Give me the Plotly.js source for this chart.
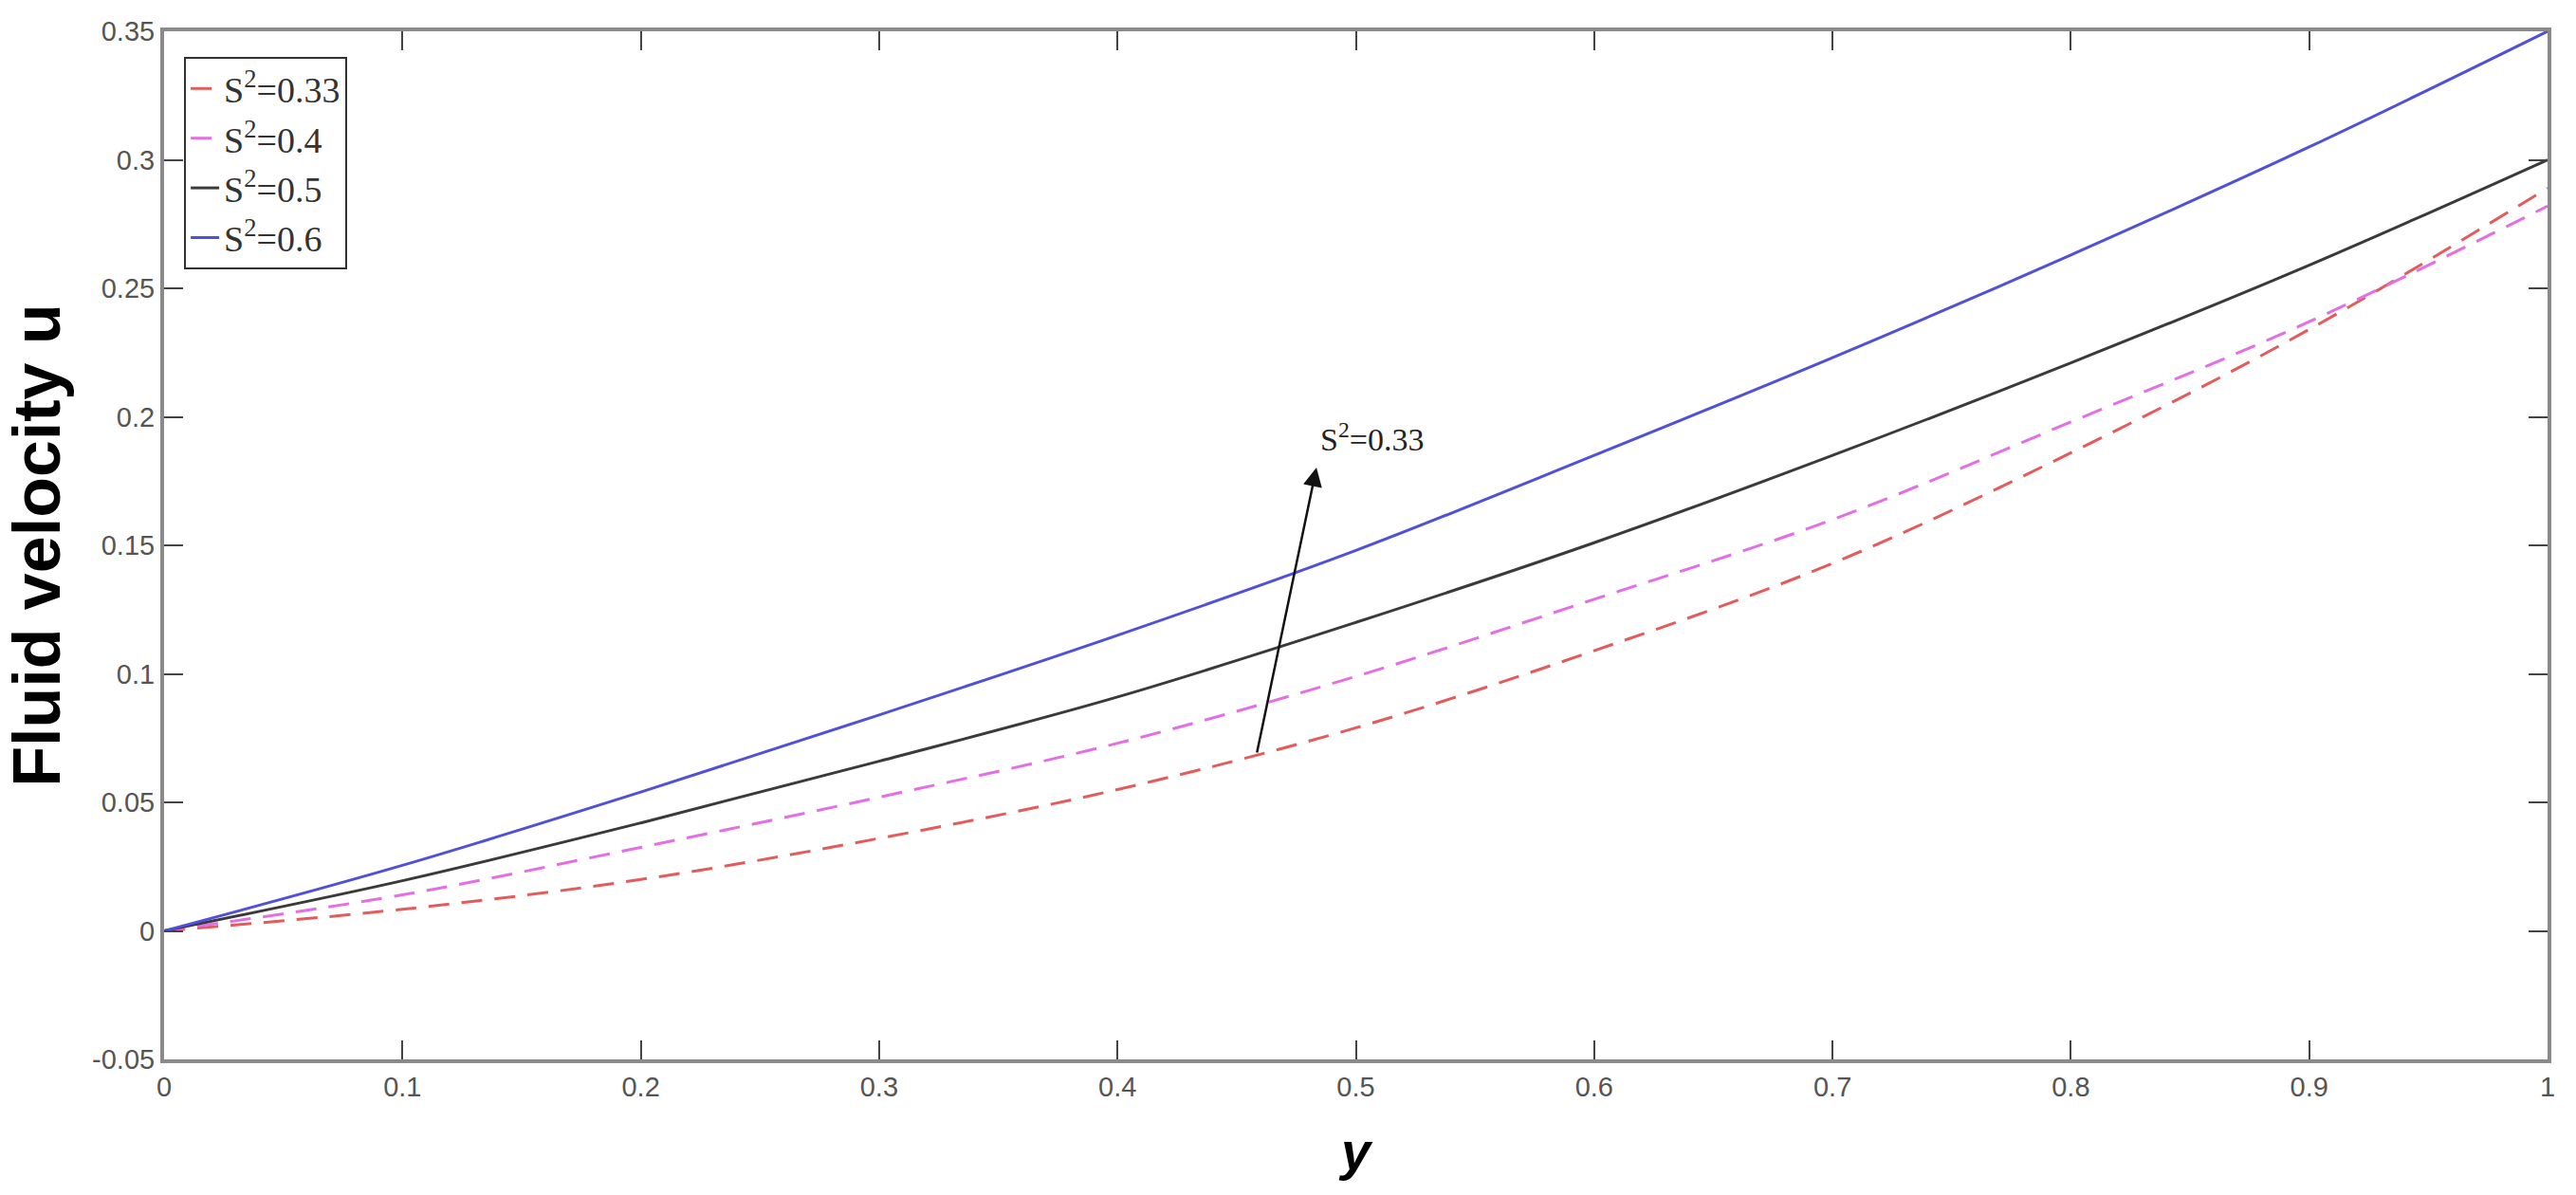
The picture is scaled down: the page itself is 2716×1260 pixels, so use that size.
<!DOCTYPE html>
<html>
<head>
<meta charset="utf-8">
<script src="https://cdn.plot.ly/plotly-3.0.1.min.js"></script>
<style>
  html, body { margin: 0; padding: 0; background: #ffffff; }
  #chart { width: 2716px; height: 1260px; }
</style>
</head>
<body>
<div id="chart"></div>
<script>
// values
var yPos = [0, 0.1, 0.2, 0.3, 0.4, 0.5, 0.6, 0.7, 0.8, 0.9, 1.0];
var uS033 = [0, 0.0084, 0.020, 0.036, 0.055, 0.079, 0.109, 0.143, 0.186, 0.234, 0.289];
var uS04 = [0, 0.014, 0.0325, 0.052, 0.073, 0.099, 0.129, 0.160, 0.198, 0.237, 0.282];
var uS05 = [0, 0.0195, 0.042, 0.066, 0.091, 0.120, 0.151, 0.185, 0.221, 0.259, 0.300];
var uS06 = [0, 0.0255, 0.054, 0.084, 0.115, 0.148, 0.185, 0.223, 0.263, 0.305, 0.350];

var seriesNames = ['S<sup>2</sup>=0.33', 'S<sup>2</sup>=0.4', 'S<sup>2</sup>=0.5', 'S<sup>2</sup>=0.6'];

var yTickVals = [-0.05, 0, 0.05, 0.1, 0.15, 0.2, 0.25, 0.3, 0.35];
var yTickText = ['-0.05', '0', '0.05', '0.1', '0.15', '0.2', '0.25', '0.3', '0.35'];

// arrow from the S^2=0.33 curve up to the label
var arrowTail = {x: 0.4584, y: 0.0688};
var arrowHead = {x: 0.4835, y: 0.1803};
var arrowLabel = {x: 0.507, y: 0.192, text: 'S<sup>2</sup>=0.33'};

var dashStyle = '22px,13px';

var trace1 = {
    x: yPos,
    y: uS033,
    mode: 'lines',
    name: seriesNames[0],
    line: {color: '#e35b5b', width: 3, dash: dashStyle, shape: 'spline'}
};

var trace2 = {
    x: yPos,
    y: uS04,
    mode: 'lines',
    name: seriesNames[1],
    line: {color: '#e46ee4', width: 3, dash: dashStyle, shape: 'spline'}
};

var trace3 = {
    x: yPos,
    y: uS05,
    mode: 'lines',
    name: seriesNames[2],
    line: {color: '#3a3a3a', width: 3, shape: 'spline'}
};

var trace4 = {
    x: yPos,
    y: uS06,
    mode: 'lines',
    name: seriesNames[3],
    line: {color: '#5050d8', width: 3, shape: 'spline'}
};

var data = [trace1, trace2, trace3, trace4];

var tickFont = {family: 'Liberation Sans, Arial, sans-serif', size: 29, color: '#555555'};

var layout = {
    width: 2716,
    height: 1260,
    paper_bgcolor: '#ffffff',
    plot_bgcolor: '#ffffff',
    margin: {l: 173, r: 30, t: 33, b: 143, pad: 0},
    showlegend: true,
    legend: {
        x: 0.0084,
        y: 0.975,
        xanchor: 'left',
        yanchor: 'top',
        bgcolor: '#ffffff',
        bordercolor: '#333333',
        borderwidth: 2,
        tracegroupgap: 0,
        font: {family: 'Liberation Serif, Times New Roman, serif', size: 38, color: '#333333'}
    },
    xaxis: {
        range: [0, 1],
        dtick: 0.1,
        tick0: 0,
        showgrid: false,
        zeroline: false,
        showline: true,
        linecolor: '#8a8a8a',
        linewidth: 4,
        mirror: 'ticks',
        ticks: 'inside',
        ticklen: 20,
        tickwidth: 2,
        tickcolor: '#444444',
        tickfont: tickFont,
        title: {
            text: '<b><i>y</i></b>',
            standoff: 34,
            font: {family: 'Liberation Sans, Arial, sans-serif', size: 56, color: '#000000'}
        }
    },
    yaxis: {
        range: [-0.05, 0.35],
        tickmode: 'array',
        tickvals: yTickVals,
        ticktext: yTickText,
        showgrid: false,
        zeroline: false,
        showline: true,
        linecolor: '#8a8a8a',
        linewidth: 4,
        mirror: 'ticks',
        ticks: 'inside',
        ticklen: 20,
        tickwidth: 2,
        tickcolor: '#444444',
        tickfont: tickFont,
        title: {
            text: '<b>Fluid velocity u</b>',
            standoff: 26,
            font: {family: 'Liberation Sans, Arial, sans-serif', size: 70, color: '#000000'}
        }
    },
    annotations: [
        {
            x: arrowHead.x,
            y: arrowHead.y,
            ax: arrowTail.x,
            ay: arrowTail.y,
            xref: 'x',
            yref: 'y',
            axref: 'x',
            ayref: 'y',
            text: '',
            showarrow: true,
            arrowhead: 2,
            arrowsize: 1.6,
            arrowwidth: 2.5,
            arrowcolor: '#111111'
        },
        {
            x: arrowLabel.x,
            y: arrowLabel.y,
            xref: 'x',
            yref: 'y',
            text: arrowLabel.text,
            showarrow: false,
            font: {family: 'Liberation Serif, Times New Roman, serif', size: 34, color: '#222222'}
        }
    ]
};

Plotly.newPlot('chart', data, layout, {displayModeBar: false, staticPlot: true});
</script>
</body>
</html>
